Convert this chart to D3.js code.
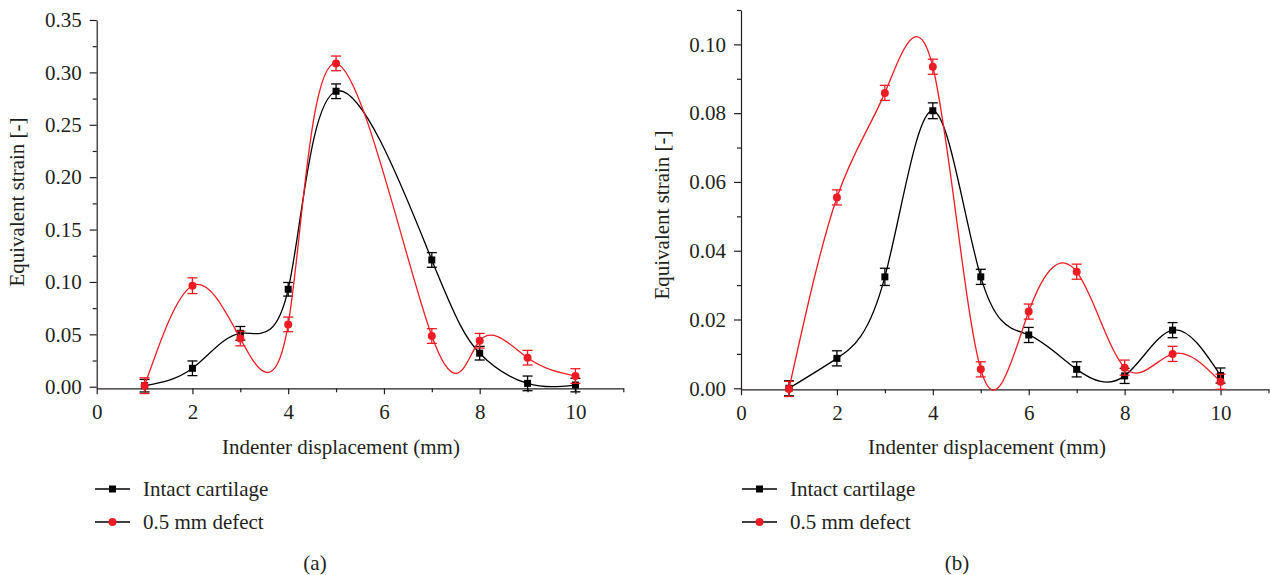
<!DOCTYPE html>
<html>
<head>
<meta charset="utf-8">
<script src="https://cdn.jsdelivr.net/npm/d3@7"></script>
<style>
  body { margin: 0; background: #fff; }
  svg { display: block; font-family: "Liberation Serif", "DejaVu Serif", serif; }
  .axis path, .axis line { stroke: #231f20; stroke-width: 1.2; }
  .label { font-size: 21px; fill: #231f20; }
</style>
</head>
<body>
<svg width="1270" height="575"></svg>
<script>
// ---- data ----
const xA = [1, 2, 3, 4, 5, 7, 8, 9, 10];
const intactA = [0.001, 0.0176, 0.051, 0.093, 0.282, 0.121, 0.032, 0.0032, 0.0016];
const intactAErr = [0.006, 0.007, 0.0065, 0.0065, 0.007, 0.007, 0.0065, 0.007, 0.0065];
const defectA = [0.001, 0.0964, 0.046, 0.0595, 0.3086, 0.0484, 0.0439, 0.0277, 0.0102];
const defectAErr = [0.0075, 0.0075, 0.007, 0.007, 0.007, 0.007, 0.007, 0.007, 0.007];

const xB = [1, 2, 3, 4, 5, 6, 7, 8, 9, 10];
const intactB = [0.0, 0.0087, 0.0324, 0.0807, 0.0324, 0.0155, 0.0055, 0.0036, 0.0169, 0.0037];
const intactBErr = [0.0022, 0.0022, 0.0025, 0.0023, 0.0022, 0.0022, 0.0022, 0.0022, 0.0022, 0.0022];
const defectB = [-0.0002, 0.0555, 0.0859, 0.0935, 0.0055, 0.0223, 0.0339, 0.006, 0.01, 0.0019];
const defectBErr = [0.0022, 0.0022, 0.0022, 0.0022, 0.0022, 0.0022, 0.0022, 0.0022, 0.0022, 0.0022];

const xMajor = [0, 2, 4, 6, 8, 10];
const xMinor = [1, 3, 5, 7, 9, 11];
const yMajorA = [0, 0.05, 0.10, 0.15, 0.20, 0.25, 0.30, 0.35];
const yMajorB = [0, 0.02, 0.04, 0.06, 0.08, 0.10];
const seriesNames = ["Intact cartilage", "0.5 mm defect"];
const panelLabels = ["(a)", "(b)"];

const RED = "#ed1c24";
const BLACK = "#000";
const FONT = '"Liberation Serif", "DejaVu Serif", serif';

const svg = d3.select("svg");

function drawPanel(p) {
    const scX = d3.scaleLinear().domain([0, 11]).range([p.left, p.right]);
    const scY = d3.scaleLinear().domain(p.yDomain).range([p.bottom, p.top]);

    const g = svg.append("g");

    const styleAxis = sel => {
        sel.attr("font-family", FONT).attr("font-size", 21);
        sel.selectAll("text").style("font-family", FONT).style("font-size", "21px").attr("fill", "#231f20");
    };

    // minor ticks first, then major axis
    g.append("g").attr("class", "axis")
        .attr("transform", `translate(0, ${p.bottom})`)
        .call(d3.axisBottom(scX).tickValues(xMinor).tickSize(4).tickFormat(""))
        .select(".domain").remove();
    g.append("g").attr("class", "axis")
        .attr("transform", `translate(0, ${p.bottom})`)
        .call(d3.axisBottom(scX).tickValues(xMajor).tickSize(6).tickSizeOuter(0).tickPadding(10).tickFormat(d3.format("d")))
        .call(styleAxis);

    g.append("g").attr("class", "axis")
        .attr("transform", `translate(${p.left}, 0)`)
        .call(d3.axisLeft(scY).tickValues(p.yMinor).tickSize(4).tickFormat(""))
        .select(".domain").remove();
    g.append("g").attr("class", "axis")
        .attr("transform", `translate(${p.left}, 0)`)
        .call(d3.axisLeft(scY).tickValues(p.yMajor).tickSize(7).tickSizeOuter(0).tickPadding(8).tickFormat(d3.format(".2f")))
        .call(styleAxis);

    // axis titles
    g.append("text").attr("class", "label")
        .attr("x", p.xTitleX).attr("y", 454)
        .attr("text-anchor", "middle")
        .text("Indenter displacement (mm)");
    g.append("text").attr("class", "label")
        .attr("transform", `translate(${p.yTitleX}, ${p.yTitleY}) rotate(-90)`)
        .attr("text-anchor", "middle")
        .attr("dy", "0.35em")
        .text("Equivalent strain [-]");

    const series = [
        {name: seriesNames[0], ys: p.intact, err: p.intactErr, color: BLACK, shape: "square"},
        {name: seriesNames[1], ys: p.defect, err: p.defectErr, color: RED, shape: "circle"}
    ];

    const line = d3.line()
        .x(d => scX(d.x))
        .y(d => scY(d.y))
        .curve(d3.curveNatural);

    series.forEach(s => {
        const pts = p.xs.map((x, i) => ({x: x, y: s.ys[i], e: s.err[i]}));
        const sg = g.append("g");

        sg.append("path")
            .datum(pts)
            .attr("d", line)
            .attr("fill", "none")
            .attr("stroke", s.color)
            .attr("stroke-width", 1.3);

        const eb = sg.selectAll(".err").data(pts).enter().append("g")
            .attr("stroke", s.color).attr("stroke-width", 1.3);
        eb.append("line")
            .attr("x1", d => scX(d.x)).attr("x2", d => scX(d.x))
            .attr("y1", d => scY(d.y - d.e)).attr("y2", d => scY(d.y + d.e));
        eb.append("line")
            .attr("x1", d => scX(d.x) - 5).attr("x2", d => scX(d.x) + 5)
            .attr("y1", d => scY(d.y + d.e)).attr("y2", d => scY(d.y + d.e));
        eb.append("line")
            .attr("x1", d => scX(d.x) - 5).attr("x2", d => scX(d.x) + 5)
            .attr("y1", d => scY(d.y - d.e)).attr("y2", d => scY(d.y - d.e));

        if (s.shape === "square") {
            sg.selectAll(".mk").data(pts).enter().append("rect")
                .attr("x", d => scX(d.x) - 3.5).attr("y", d => scY(d.y) - 3.5)
                .attr("width", 7).attr("height", 7)
                .attr("fill", s.color);
        } else {
            sg.selectAll(".mk").data(pts).enter().append("circle")
                .attr("cx", d => scX(d.x)).attr("cy", d => scY(d.y))
                .attr("r", 4)
                .attr("fill", s.color);
        }
    });

    // legend
    series.forEach((s, i) => {
        const ly = 489 + i * 33;
        const lg = g.append("g");
        lg.append("line")
            .attr("x1", p.legendX).attr("x2", p.legendX + 35)
            .attr("y1", ly).attr("y2", ly)
            .attr("stroke", BLACK)
            .attr("stroke-width", 1.3);
        if (s.shape === "square") {
            lg.append("rect")
                .attr("x", p.legendX + 17.5 - 3.5).attr("y", ly - 3.5)
                .attr("width", 7).attr("height", 7).attr("fill", s.color);
        } else {
            lg.append("circle")
                .attr("cx", p.legendX + 17.5).attr("cy", ly).attr("r", 4).attr("fill", s.color);
        }
        lg.append("text").attr("class", "label")
            .attr("x", p.legendX + 48).attr("y", ly)
            .attr("dy", "0.33em")
            .text(s.name);
    });

    g.append("text").attr("class", "label")
        .attr("x", p.labelX).attr("y", 563)
        .attr("dy", "0.33em")
        .attr("text-anchor", "middle")
        .text(p.label);
}

drawPanel({
    left: 96.7, right: 623.3, top: 20, bottom: 388.3,
    yDomain: [-0.0015, 0.35],
    yMajor: yMajorA,
    yMinor: d3.range(0.025, 0.35, 0.05),
    xs: xA, intact: intactA, intactErr: intactAErr, defect: defectA, defectErr: defectAErr,
    xTitleX: 341, yTitleX: 17, yTitleY: 202,
    legendX: 95, label: panelLabels[0], labelX: 315
});

drawPanel({
    left: 741, right: 1268.5, top: 10, bottom: 389.3,
    yDomain: [-0.0003, 0.11],
    yMajor: yMajorB,
    yMinor: d3.range(0.01, 0.115, 0.02),
    xs: xB, intact: intactB, intactErr: intactBErr, defect: defectB, defectErr: defectBErr,
    xTitleX: 987, yTitleX: 662, yTitleY: 215,
    legendX: 742, label: panelLabels[1], labelX: 957
});
</script>
</body>
</html>
